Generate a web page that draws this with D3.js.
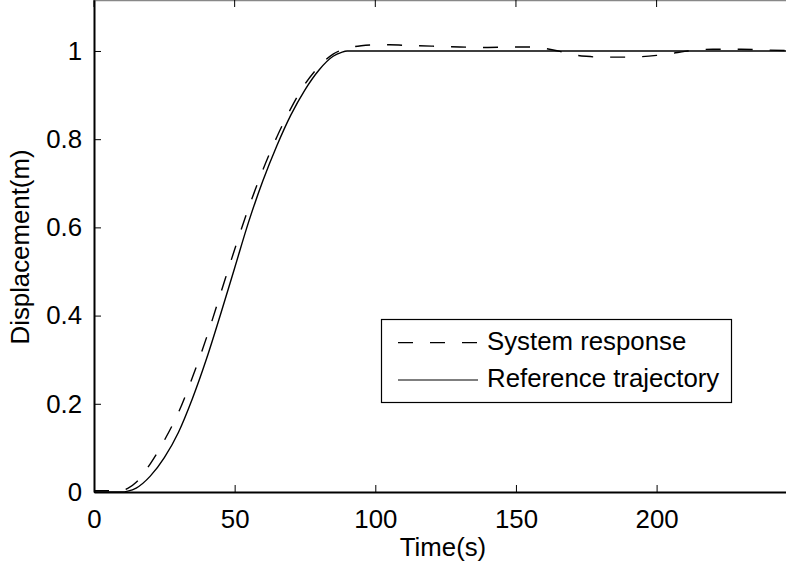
<!DOCTYPE html>
<html>
<head>
<meta charset="utf-8">
<script src="https://cdn.jsdelivr.net/npm/d3@7"></script>
<style>
  body { margin: 0; background: #fff; }
  text { font-family: "Liberation Sans", Arial, sans-serif; }
</style>
</head>
<body>
<div id="chart"></div>
<script>
// data
var refTime = [0, 5, 10, 12, 15, 20, 25, 30, 35, 40, 45, 50, 55, 60, 65, 70, 75, 80, 85, 88, 90, 95, 120, 150, 200, 246];
var refValue = [0, 0, 0, 0.002, 0.009, 0.036, 0.078, 0.135, 0.212, 0.302, 0.403, 0.508, 0.613, 0.705, 0.785, 0.855, 0.912, 0.957, 0.988, 0.997, 1.0, 1.0, 1.0, 1.0, 1.0, 1.0];

var sysTime = [0, 5, 8, 10, 12, 15, 20, 25, 30, 35, 40, 45, 50, 55, 60, 65, 70, 75, 80, 85, 90, 95, 100, 105, 110, 120, 130, 140, 150, 155, 160, 165, 170, 175, 180, 190, 200, 205, 210, 215, 220, 230, 240, 246];
var sysValue = [0.003, 0.003, 0.002, 0.003, 0.008, 0.022, 0.064, 0.117, 0.18, 0.26, 0.35, 0.45, 0.55, 0.645, 0.73, 0.805, 0.87, 0.925, 0.965, 0.993, 1.006, 1.012, 1.014, 1.014, 1.013, 1.011, 1.009, 1.008, 1.009, 1.009, 1.006, 1.0, 0.992, 0.988, 0.986, 0.986, 0.99, 0.994, 0.999, 1.003, 1.004, 1.004, 1.002, 1.001];

var xTicks = [0, 50, 100, 150, 200];
var yTicks = [0, 0.2, 0.4, 0.6, 0.8, 1];
var seriesNames = ["System response", "Reference trajectory"];

var width = 786, height = 569;
var fontSize = 25.8;

var svg = d3.select("#chart").append("svg").attr("width", width).attr("height", height);

var x = d3.scaleLinear().domain([0, 246]).range([94, 786]);
var y = d3.scaleLinear().domain([0, 1.1156]).range([492, 0]);

var line = d3.line().curve(d3.curveMonotoneX)
  .x(function (d) { return x(d[0]); })
  .y(function (d) { return y(d[1]); });

var sysData = sysTime.map(function (t, i) { return [t, sysValue[i]]; });
var refData = refTime.map(function (t, i) { return [t, refValue[i]]; });

svg.append("path").datum(refData).attr("d", line)
  .attr("fill", "none").attr("stroke", "#000").attr("stroke-width", 1.4);
svg.append("path").datum(sysData).attr("d", line)
  .attr("fill", "none").attr("stroke", "#000").attr("stroke-width", 1.4)
  .attr("stroke-dasharray", "15,17");

// top border (cut at the figure edge)
svg.append("line").attr("x1", 94).attr("x2", width).attr("y1", 0.5).attr("y2", 0.5)
  .attr("stroke", "#888").attr("stroke-width", 1.5);

// bottom axis, ticks inward
var xAxis = svg.append("g").attr("transform", "translate(0," + y(0) + ")")
  .call(d3.axisBottom(x).tickValues(xTicks).tickSizeInner(-7).tickSizeOuter(0).tickPadding(18).tickFormat(d3.format("d")));
xAxis.select(".domain").attr("stroke-width", 2);
xAxis.selectAll("text").attr("font-size", fontSize).attr("fill", "#000").attr("font-family", "Liberation Sans, Arial, sans-serif");

// top ticks
svg.append("g").selectAll("line").data(xTicks).enter().append("line")
  .attr("x1", function (d) { return x(d); }).attr("x2", function (d) { return x(d); })
  .attr("y1", 0).attr("y2", 7).attr("stroke", "#000");

// left axis
var yAxis = svg.append("g").attr("transform", "translate(" + x(0) + ",0)")
  .call(d3.axisLeft(y).tickValues(yTicks).tickSizeInner(-7).tickSizeOuter(0).tickPadding(12).tickFormat(function (d) { return d3.format("")(d); }));
yAxis.select(".domain").attr("stroke-width", 2);
yAxis.selectAll("text").attr("font-size", fontSize).attr("fill", "#000").attr("font-family", "Liberation Sans, Arial, sans-serif");

svg.append("text").attr("x", 443).attr("y", 556).attr("text-anchor", "middle")
  .attr("font-size", fontSize).text("Time(s)");
svg.append("text").attr("transform", "translate(29,247) rotate(-90)").attr("text-anchor", "middle")
  .attr("font-size", fontSize).text("Displacement(m)");

// legend
var legend = svg.append("g");
legend.append("rect").attr("x", 381.5).attr("y", 319.5).attr("width", 350).attr("height", 83)
  .attr("fill", "#fff").attr("stroke", "#000").attr("stroke-width", 1.2);
var rows = legend.selectAll("g.row").data(seriesNames).enter().append("g").attr("class", "row")
  .attr("transform", function (d, i) { return "translate(0," + (342.7 + i * 37.3) + ")"; });
rows.append("line").attr("x1", 398).attr("x2", 478).attr("y1", 0).attr("y2", 0)
  .attr("stroke", "#000").attr("stroke-width", 1.2)
  .attr("stroke-dasharray", function (d, i) { return i === 0 ? "15,17" : null; });
rows.append("text").attr("x", 487).attr("y", 6.8).attr("font-size", fontSize).text(function (d) { return d; });
</script>
</body>
</html>
